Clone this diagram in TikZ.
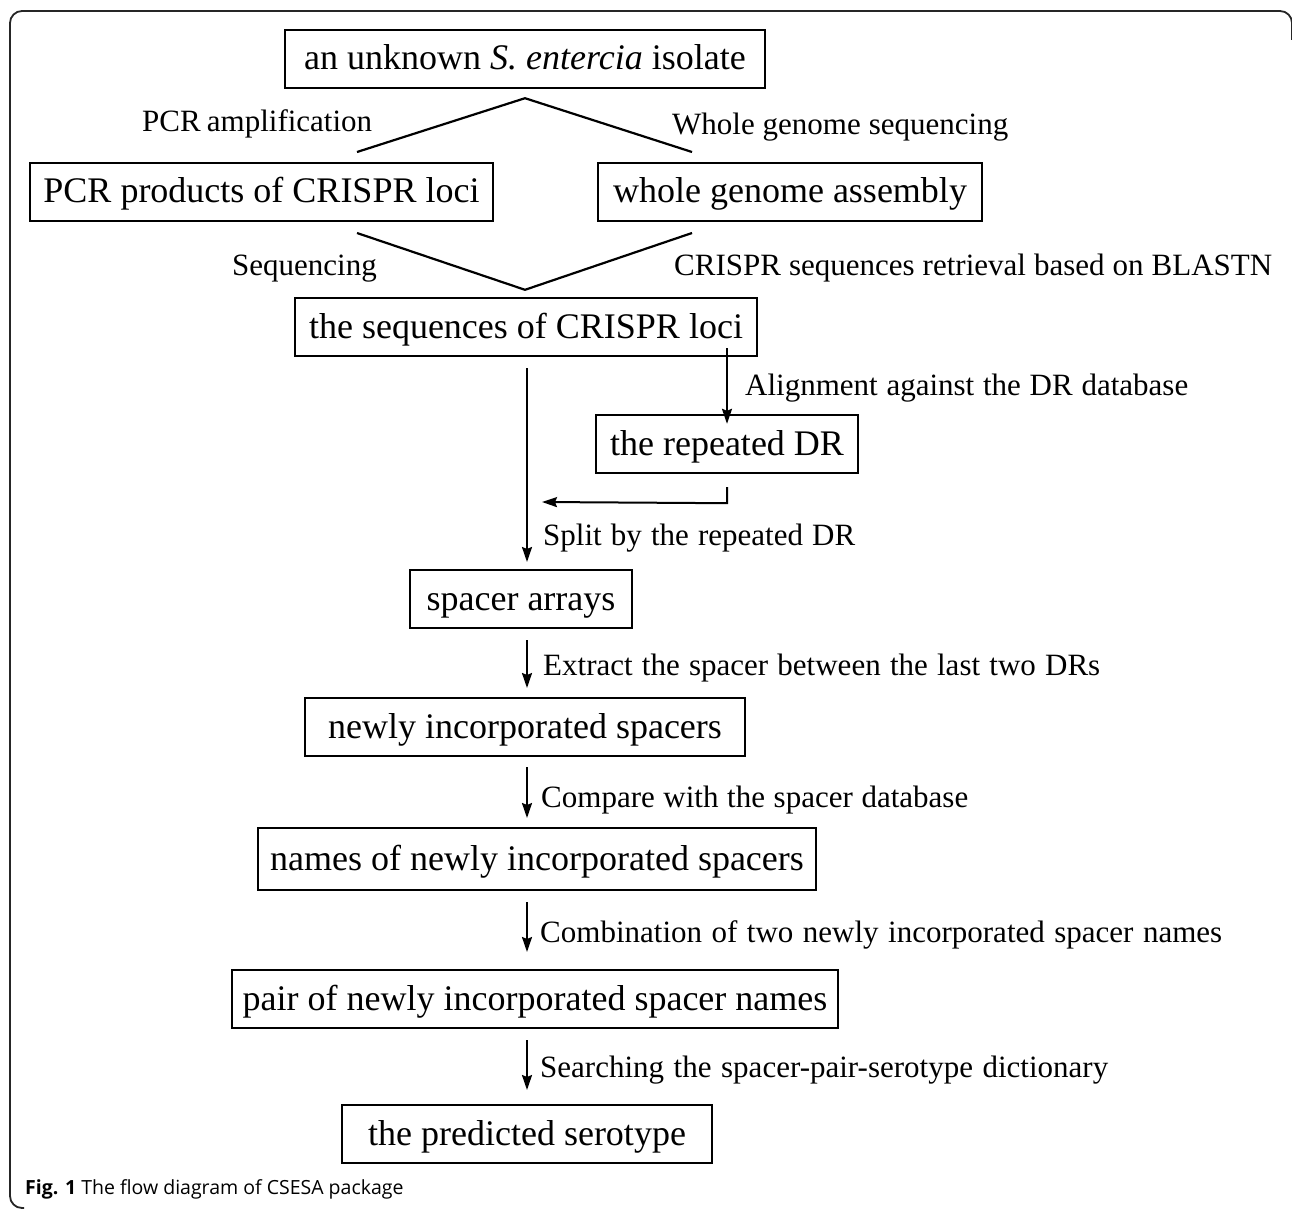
\documentclass[tikz,border=0pt]{standalone}
\usepackage{fontspec}
\setmainfont{Liberation Serif}
\newfontfamily\capfont{Open Sans}
\usetikzlibrary{arrows.meta,calc}
\begin{document}
\begin{tikzpicture}[x=1pt,y=-1pt,
  box/.style={draw,line width=2.4pt,minimum height=58pt,inner sep=0pt,
    text height=28pt,text depth=6pt,
    font=\fontsize{36}{40}\selectfont},
  lbl/.style={inner sep=0pt,anchor=base west,font=\fontsize{31}{36}\selectfont},
  arr/.style={line width=2pt,-{Stealth[length=15pt,width=10pt,inset=2pt]}},
  ln/.style={line width=2.2pt},
  frame/.style={line width=1.8pt,draw=black!85,rounded corners=12pt}]
\useasboundingbox (0,0) rectangle (1292,1209);

% frame
\draw[frame] (24,1208) -- (10,1208) -- (10,11) -- (1292,11) -- (1292,40);

% boxes
\node[box,minimum width=480pt] (b1) at (525,59) {an unknown \textit{S. entercia} isolate};
\node[box,minimum width=463pt] (b2) at (261.5,192) {PCR products of CRISPR loci};
\node[box,minimum width=384pt] (b3) at (790,192) {whole genome assembly};
\node[box,minimum width=462pt] (b4) at (526,327) {the sequences of CRISPR loci};
\node[box,minimum width=262pt] (b5) at (727,444) {the repeated DR};
\node[box,minimum width=222pt] (b6) at (521,599) {spacer arrays};
\node[box,minimum width=440pt] (b7) at (525,727) {newly incorporated spacers};
\node[box,minimum width=558pt,minimum height=62pt] (b8) at (537,859) {names of newly incorporated spacers};
\node[box,minimum width=606pt] (b9) at (535,999) {pair of newly incorporated spacer names};
\node[box,minimum width=370pt] (b10) at (527,1134) {the predicted serotype};

% V connectors
\coordinate (v1) at ($(b1.south)+(0,9)$);
\coordinate (v1l) at (357,152);
\coordinate (v1r) at (692,152);
\draw[ln] (v1l) -- (v1) -- (v1r);
\coordinate (v2) at ($(b4.north)+(-1,-7)$);
\coordinate (v2l) at (357,233);
\coordinate (v2r) at (692,233);
\draw[ln] (v2l) -- (v2) -- (v2r);

% labels
\node[lbl] (l1) at (142,132) {\makebox[230pt][s]{PCR amplification}};
\node[lbl] (l2) at (672,135) {\makebox[336pt][s]{Whole genome sequencing}};
\node[lbl] (l3) at (232,275) {Sequencing};
\node[lbl] (l4) at (674,275) {\makebox[598pt][s]{CRISPR sequences retrieval based on BLASTN}};
\node[lbl] (l5) at (745,395) {\makebox[443pt][s]{Alignment against the DR database}};
\node[lbl] (l6) at (543,545) {\makebox[312pt][s]{Split by the repeated DR}};
\node[lbl] (l7) at (543,675) {\makebox[557pt][s]{Extract the spacer between the last two DRs}};
\node[lbl] (l8) at (541,807) {\makebox[427pt][s]{Compare with the spacer database}};
\node[lbl] (l9) at (540,942) {\makebox[682pt][s]{Combination of two newly incorporated spacer names}};
\node[lbl] (l10) at (540,1077) {\makebox[568pt][s]{Searching the spacer-pair-serotype dictionary}};

% arrows
\coordinate (m4) at (527,368);
\coordinate (m6) at (527,562);
\draw[arr] (m4) -- (m6);
\draw[arr] ([yshift=9pt]b5.north |- b4.south) -- ([yshift=-10pt]b5.north);
\coordinate (e1) at ($(b5.south)+(0,13)$);
\coordinate (e2) at ($(b5.south)+(0,29)$);
\coordinate (e3) at (542,502);
\draw[arr] (e1) -- (e2) -- (e3);
\draw[arr] (527,640) -- (527,688);
\draw[arr] (527,767) -- (527,818);
\draw[arr] (527,902) -- (527,952);
\draw[arr] (527,1040) -- (527,1090);

% caption
\node[inner sep=0pt,anchor=base west,font=\capfont\fontsize{19.5}{22}\selectfont] (cap) at (25,1194)
  {\textbf{Fig. 1} The flow diagram of CSESA package};
\end{tikzpicture}
\end{document}
